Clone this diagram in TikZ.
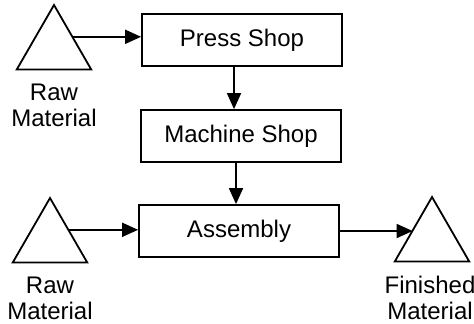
\documentclass[tikz,border=0pt]{standalone}
\usepackage{fontspec}
\setmainfont{Liberation Sans}
\usepackage{tikz}
\usetikzlibrary{shapes.geometric,arrows.meta,positioning}

\begin{document}
\begin{tikzpicture}[x=0.5pt,y=-0.5pt,line width=0.9pt,
    font=\fontsize{12}{13}\selectfont,
    shopbox/.style={draw,minimum width=100pt,minimum height=26pt},
    stocktri/.style={draw,regular polygon,regular polygon sides=3,minimum size=43pt,inner sep=0pt},
    stocklabel/.style={align=center,inner sep=0pt},
    flow/.style={-{Triangle[length=8pt,width=7pt]}}]
    \useasboundingbox (0,0) rectangle (474,323);

    % Werkstaetten
    \node[shopbox] (press) at (242,40) {Press Shop};
    \node[shopbox] (machine) at (241,136) {Machine Shop};
    \node[shopbox] (assembly) at (239,231) {Assembly};

    % Material (Dreiecke)
    \node[stocktri] (rawtop) at (54,48) {};
    \node[stocktri] (rawbottom) at (50,241) {};
    \node[stocktri] (finished) at (432,240) {};
    \node[stocklabel,below=6.5pt of rawtop] (rawtoplabel) {Raw\\Material};
    \node[stocklabel,below=6.5pt of rawbottom] (rawbottomlabel) {Raw\\Material};
    \node[stocklabel,below=6.5pt of finished,xshift=-1pt] (finishedlabel) {Finished\\Material};

    % Pfeile
    \draw[flow] (rawtop.side 3) -- (rawtop.side 3 -| press.west);
    \draw[flow] ([xshift=-4pt]press.south) -- ([xshift=-4pt]press.south |- machine.north);
    \draw[flow] ([xshift=-2.5pt]machine.south) -- ([xshift=-2.5pt]machine.south |- assembly.north);
    \draw[flow] (rawbottom.side 3) -- (rawbottom.side 3 -| assembly.west);
    \draw[flow] (assembly.east) -- (assembly.east -| finished.side 1);
\end{tikzpicture}
\end{document}
